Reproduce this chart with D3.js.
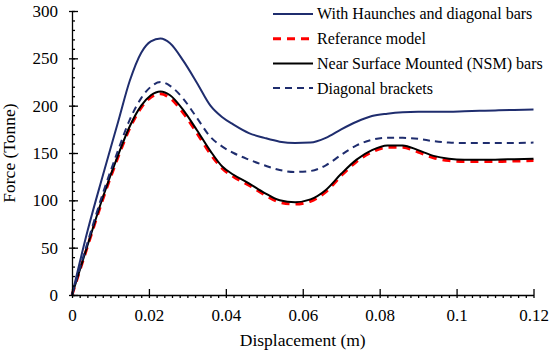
<!DOCTYPE html>
<html>
<head>
<meta charset="utf-8">
<script src="https://cdn.jsdelivr.net/npm/d3@7"></script>
<style>
  body { margin: 0; background: #fff; }
</style>
</head>
<body>
<script>
// data
const displacement = [0, 0.004, 0.008, 0.012, 0.015, 0.018, 0.0205, 0.023, 0.0255, 0.029, 0.0325, 0.036, 0.039, 0.042, 0.046, 0.05, 0.054, 0.058, 0.062, 0.066, 0.07, 0.074, 0.078, 0.082, 0.086, 0.09, 0.094, 0.098, 0.102, 0.106, 0.11, 0.115, 0.12];
const haunches = [0, 67, 126, 183, 226, 256, 268, 271, 266, 247, 224, 200, 188, 180, 171, 166, 162, 160.5, 161, 166, 175, 183, 189, 191.5, 193, 193.5, 193.5, 193.5, 194, 194.5, 195, 195.5, 196];
const reference = [0, 51, 101, 146, 176, 198, 209, 212.5, 208, 192, 171, 149, 134, 125, 116, 106, 98, 96, 99, 109, 126, 141, 151, 156, 156, 151, 145, 142, 141, 141, 141, 141.5, 142];
const nsm = [0, 52, 103, 148, 178, 200, 211, 215, 211, 195, 174, 152, 136, 127, 118, 108, 100, 98, 101, 111, 128, 143, 153, 158, 158, 153, 147, 144, 143, 143, 143, 143.5, 144];
const brackets = [0, 55, 107, 153, 185, 208, 220, 225, 221, 207, 187, 167, 157, 150, 143, 137, 132, 130, 131, 137, 148, 158, 164, 166, 166, 165, 162.5, 161, 160.5, 160.5, 160.5, 160.5, 161];

const seriesNames = ['With Haunches and diagonal bars', 'Referance model', 'Near Surface Mounted (NSM) bars', 'Diagonal brackets'];
const xTicks = [0, 0.02, 0.04, 0.06, 0.08, 0.1, 0.12];
const yTicks = [0, 50, 100, 150, 200, 250, 300];

const FONT = "'Liberation Serif', 'Times New Roman', Times, 'DejaVu Serif', serif";

// setting canvas
const width = 550;
const height = 353;
const margin = { top: 11, left: 72, bottom: 58, right: 16.5 };

const svg = d3
  .select('body')
  .append('svg')
  .attr('width', width)
  .attr('height', height)
  .attr('font-family', FONT);

const x = d3.scaleLinear().domain([0, 0.12]).range([margin.left, width - margin.right]);
const y = d3.scaleLinear().domain([0, 300]).range([height - margin.bottom, margin.top]);

const styles = [
  { color: '#1f2d6e', width: 2, dash: null },
  { color: '#ff0000', width: 3, dash: '8,6' },
  { color: '#000000', width: 2, dash: null },
  { color: '#1f2d6e', width: 2, dash: '7,5' },
];
const series = [haunches, reference, nsm, brackets].map((vals, i) => ({
  name: seriesNames[i],
  style: styles[i],
  points: displacement.map((d, j) => ({ x: d, y: vals[j] })),
}));

// lines
const line = d3
  .line()
  .x((d) => x(d.x))
  .y((d) => y(d.y))
  .curve(d3.curveMonotoneX);

const drawOrder = [1, 2, 3, 0];
svg
  .append('g')
  .selectAll('path')
  .data(drawOrder.map((i) => series[i]))
  .enter()
  .append('path')
  .attr('fill', 'none')
  .attr('stroke', (d) => d.style.color)
  .attr('stroke-width', (d) => d.style.width)
  .attr('stroke-dasharray', (d) => d.style.dash)
  .attr('d', (d) => line(d.points));

// axes
const y0 = y(0);
const fmt = (d) => String(+d.toFixed(2));

// x labels
svg
  .append('g')
  .attr('transform', `translate(0, ${y0})`)
  .call(d3.axisBottom(x).tickValues(xTicks).tickSize(0).tickPadding(14).tickFormat(fmt))
  .call((g) => g.select('.domain').remove());

// x minor ticks (outside)
svg
  .append('g')
  .attr('transform', `translate(0, ${y0})`)
  .call(d3.axisBottom(x).tickValues(d3.range(0, 0.1201, 0.002)).tickSize(3).tickFormat('').tickSizeOuter(0))
  .call((g) => g.select('.domain').remove());

// x major ticks (inside) and axis line
svg
  .append('g')
  .attr('transform', `translate(0, ${y0})`)
  .call(d3.axisTop(x).tickValues(xTicks).tickSize(6).tickFormat('').tickSizeOuter(0));

// y labels + short outside major tick
svg
  .append('g')
  .attr('transform', `translate(${margin.left}, 0)`)
  .call(d3.axisLeft(y).tickValues(yTicks).tickSize(3).tickPadding(11).tickSizeOuter(0));

// y minor ticks (inside)
svg
  .append('g')
  .attr('transform', `translate(${margin.left}, 0)`)
  .call(d3.axisRight(y).tickValues(d3.range(0, 301, 10)).tickSize(3).tickFormat('').tickSizeOuter(0))
  .call((g) => g.select('.domain').remove());

// y major ticks (inside)
svg
  .append('g')
  .attr('transform', `translate(${margin.left}, 0)`)
  .call(d3.axisRight(y).tickValues(yTicks).tickSize(6).tickFormat('').tickSizeOuter(0))
  .call((g) => g.select('.domain').remove());

svg.selectAll('.domain, .tick line').attr('stroke', '#000').attr('stroke-width', 1.3);
svg.selectAll('g').attr('font-family', null).attr('font-size', null);
svg.selectAll('.tick text').attr('font-size', '17px').attr('fill', '#000');

// axis titles
svg
  .append('text')
  .text('Displacement (m)')
  .attr('x', (x(0) + x(0.12)) / 2)
  .attr('y', 346)
  .attr('font-size', '17.5px')
  .attr('text-anchor', 'middle');

svg
  .append('text')
  .text('Force (Tonne)')
  .attr('transform', `translate(15, ${(y(0) + y(300)) / 2}) rotate(-90)`)
  .attr('font-size', '17.5px')
  .attr('text-anchor', 'middle');

// legend
const legend = svg
  .append('g')
  .selectAll('g')
  .data(series)
  .enter()
  .append('g')
  .attr('transform', (d, i) => `translate(273, ${14 + i * 24.7})`);

legend
  .append('line')
  .attr('x1', 0)
  .attr('x2', 40)
  .attr('stroke', (d) => d.style.color)
  .attr('stroke-width', (d) => d.style.width)
  .attr('stroke-dasharray', (d) => d.style.dash);

legend
  .append('text')
  .text((d) => d.name)
  .attr('x', 44)
  .attr('dy', '0.34em')
  .attr('font-size', '16px');
</script>
</body>
</html>
